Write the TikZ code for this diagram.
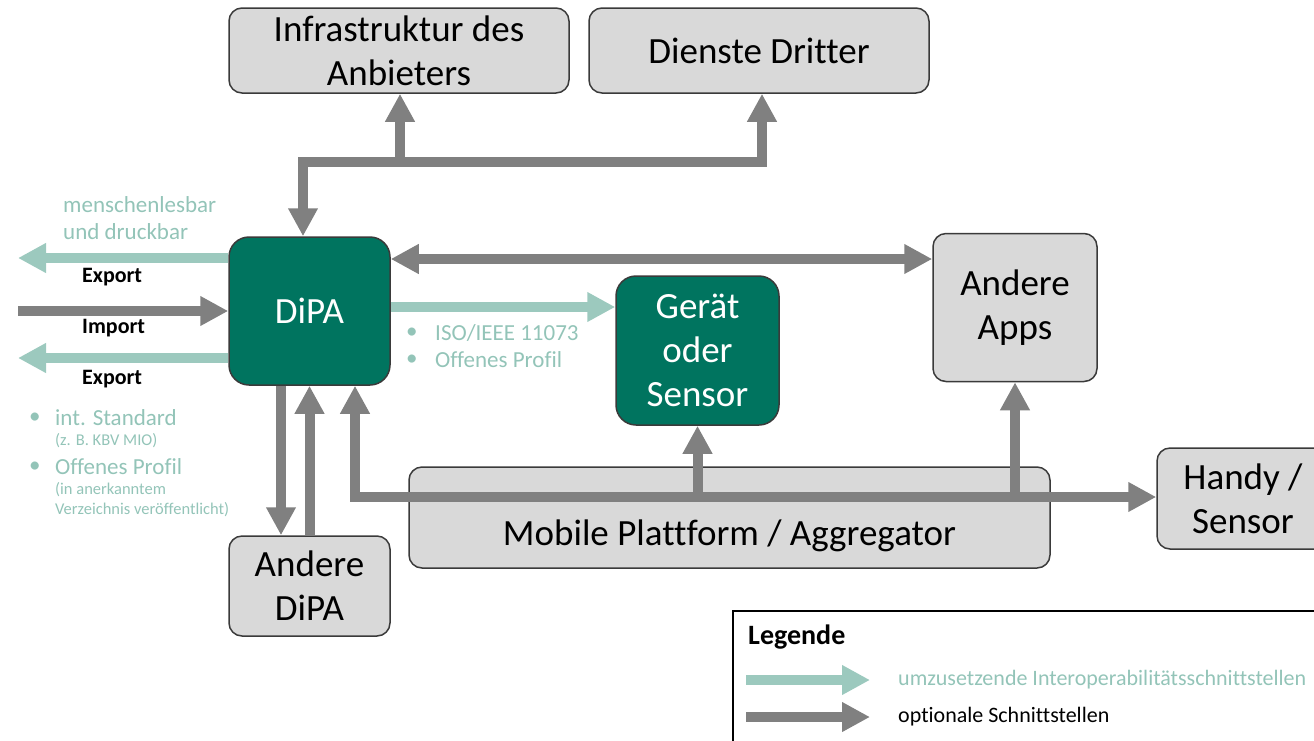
\documentclass[tikz,border=0pt]{standalone}
\usepackage{fontspec}
\setmainfont[Ligatures=NoCommon]{Carlito}
\usetikzlibrary{arrows.meta}
\definecolor{dkgreen}{HTML}{00745F}
\definecolor{ltgreen}{HTML}{9CC9BE}
\definecolor{ltgreentext}{HTML}{93C4B8}
\definecolor{arrowgray}{HTML}{808080}
\definecolor{boxfill}{HTML}{D9D9D9}
\definecolor{boxline}{HTML}{3A3A3A}
\begin{document}
\begin{tikzpicture}[x=1pt,y=-1pt,
  bigfont/.style={font=\fontsize{37}{44}\selectfont},
  graybox/.style={draw=boxline, fill=boxfill, line width=1.5pt, rounded corners=13pt, bigfont, align=center, inner sep=0pt},
  greenbox/.style={draw=boxline, fill=dkgreen, text=white, line width=1.5pt, rounded corners=20pt, bigfont, align=center, inner sep=0pt},
  tip/.tip={Triangle[width=28pt,length=28pt]},
  optarrow/.style={draw=arrowgray, line width=10pt, -tip},
  optboth/.style={draw=arrowgray, line width=10pt, tip-tip},
  reqarrow/.style={draw=ltgreen, line width=10pt, -tip},
  lighttext/.style={text=ltgreentext, font=\fontsize{23}{27}\selectfont, inner sep=0pt, anchor=west, align=left},
  smalltext/.style={text=ltgreentext, font=\fontsize{16.5}{20}\selectfont, inner sep=0pt, anchor=west, align=left},
  boldlabel/.style={font=\bfseries\fontsize{22}{25}\selectfont, inner sep=0pt, anchor=west},
]
\useasboundingbox (0,0) rectangle (1314,740);

% boxes
\node[graybox, minimum width=340pt, minimum height=85pt] (infra) at (399,50.5) {Infrastruktur des\\Anbieters};
\node[graybox, minimum width=340pt, minimum height=85pt] (dienste) at (759,50.5) {Dienste Dritter};
\node[greenbox, minimum width=161pt, minimum height=148pt] (dipa) at (309.5,311) {DiPA};
\node[greenbox, minimum width=163pt, minimum height=149pt] (geraet) at (697.5,350.5) {Gerät\\oder\\Sensor};
\node[graybox, minimum width=164pt, minimum height=148pt] (apps) at (1015,307.5) {Andere\\Apps};
\node[graybox, minimum width=641pt, minimum height=101pt] (mobile) at (729.5,517.5) {};
\node[bigfont, inner sep=0pt] (mobiletext) at (729.5,536) {Mobile Plattform / Aggregator};
\node[graybox, minimum width=172pt, minimum height=101pt] (handy) at (1243,498.5) {Handy /\\Sensor};
\node[graybox, minimum width=161pt, minimum height=100pt] (adipa) at (309.5,586) {Andere\\DiPA};

% top connector
\coordinate (tl) at (303,162);
\coordinate (tr) at (762,162);
\coordinate (tm) at (400,162);
\draw[optboth, line join=miter] (dipa.north -| tl) -- (tl) -- (tr) -- (dienste.south -| tr);
\draw[optarrow] (tm) -- (infra.south -| tm);

% DiPA <-> Andere Apps
\coordinate (da) at ([yshift=52pt]dipa.east);
\draw[optboth] (da) -- (da -| apps.west);

% left side export/import
\coordinate (ex1) at ([yshift=53pt]dipa.west);
\coordinate (ex1end) at (18,258);
\draw[reqarrow] (ex1) -- (ex1end);
\coordinate (imstart) at (18,311);
\draw[optarrow] (imstart) -- (dipa.west);
\coordinate (ex2) at ([yshift=-47pt]dipa.west);
\coordinate (ex2end) at (18,358);
\draw[reqarrow] (ex2) -- (ex2end);

% DiPA -> Geraet
\coordinate (g1) at ([yshift=4pt]dipa.east);
\draw[reqarrow] (g1) -- (g1 -| geraet.west);

% DiPA <-> Andere DiPA
\coordinate (d1) at ([xshift=-28.5pt]dipa.south);
\draw[optarrow] (d1) -- (d1 |- adipa.north);
\coordinate (d2) at (dipa.south);
\draw[optarrow] (d2 |- adipa.north) -- (d2);

% Mobile bus
\coordinate (bus) at (355,497);
\draw[optboth, line join=miter] (dipa.south -| bus) -- (bus) -- (bus -| handy.west);
\draw[optarrow] (bus -| geraet.south) -- (geraet.south);
\draw[optarrow] (bus -| apps.south) -- (apps.south);

% left labels
\node[lighttext] (mensch) at (63,218) {menschenlesbar\\und druckbar};
\node[boldlabel] (exp1) at (82,277) {Export};
\node[boldlabel] (imp) at (82,328) {Import};
\node[boldlabel] (exp2) at (82,379) {Export};

\node[lighttext] (b1) at (29,418) {•};
\node[lighttext] (t1) at (55,418) {int. Standard};
\node[smalltext] (t1s) at (55,441) {(z. B. KBV MIO)};
\node[lighttext] (b2) at (29,467) {•};
\node[lighttext] (t2) at (55,467) {Offenes Profil};
\node[smalltext] (t2s) at (55,500) {(in anerkanntem\\Verzeichnis veröffentlicht)};

\node[lighttext] (b3) at (406,333) {•};
\node[lighttext] (t3) at (435,333) {ISO/IEEE 11073};
\node[lighttext] (b4) at (406,360) {•};
\node[lighttext] (t4) at (435,360) {Offenes Profil};

% legend
\draw[line width=1.5pt, draw=black] (733,611) rectangle (1330,760);
\node[font=\bfseries\fontsize{28}{32}\selectfont, inner sep=0pt, anchor=west] (leg) at (748,637) {Legende};
\coordinate (l1a) at (746,680);
\coordinate (l1b) at (870,680);
\draw[reqarrow] (l1a) -- (l1b);
\node[lighttext, font=\fontsize{22}{26}\selectfont] (l1t) at (898,680) {umzusetzende Interoperabilitätsschnittstellen};
\coordinate (l2a) at (746,717);
\coordinate (l2b) at (870,717);
\draw[optarrow] (l2a) -- (l2b);
\node[font=\fontsize{22}{26}\selectfont, inner sep=0pt, anchor=west] (l2t) at (898,717) {optionale Schnittstellen};
\end{tikzpicture}
\end{document}
